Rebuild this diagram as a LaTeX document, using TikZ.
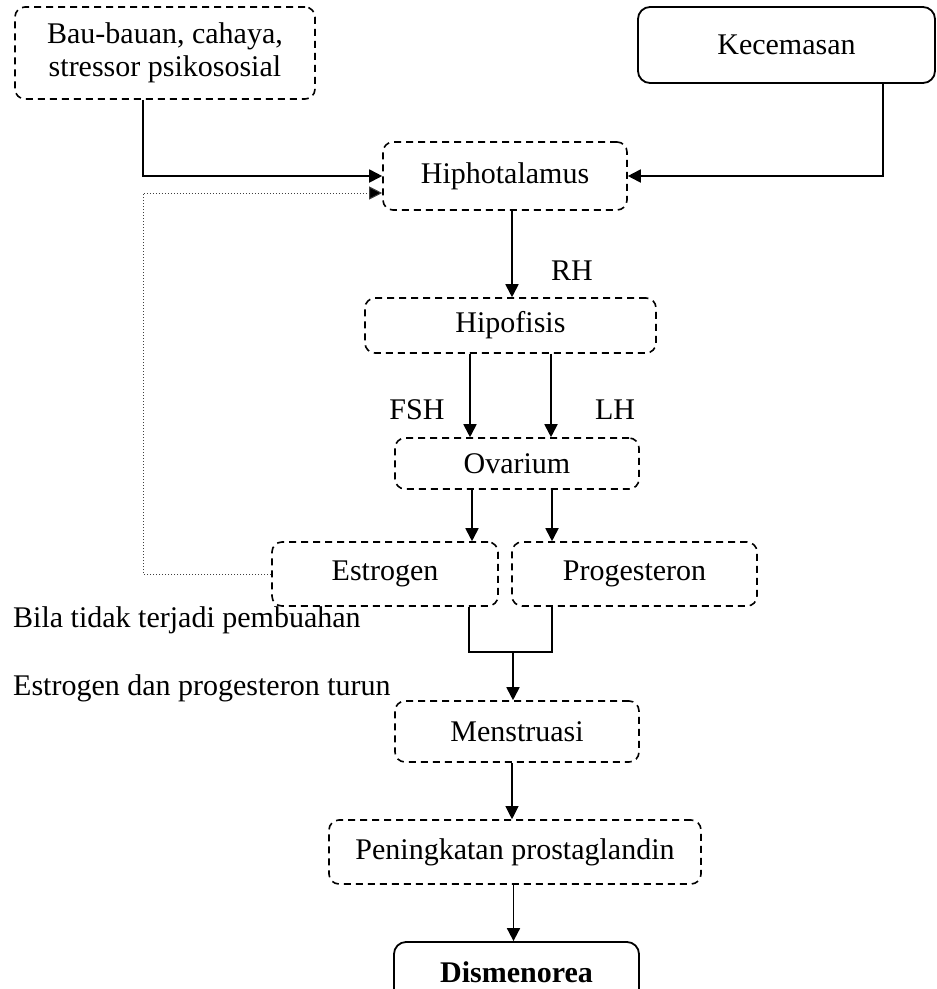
\documentclass[tikz,border=0pt]{standalone}
\usepackage{fontspec}
\setmainfont{Liberation Serif}
\usetikzlibrary{arrows.meta}
\begin{document}
\begin{tikzpicture}[x=1pt,y=-1pt,
  every node/.style={font=\fontsize{30}{33}\selectfont},
  dbox/.style={draw, dash pattern=on 7pt off 5pt, line width=1.6pt, rounded corners=10pt, inner sep=0pt, align=center},
  sbox/.style={draw, line width=1.8pt, rounded corners=12pt, inner sep=0pt, align=center},
  arr/.style={line width=1.8pt, -{Triangle[length=13pt,width=13pt]}},
  arrthin/.style={line width=1.1pt, -{Triangle[length=13pt,width=13pt]}},
  conn/.style={line width=1.8pt},
  fback/.style={dotted, line width=1pt, draw=black!75, -{Triangle[length=13pt,width=13pt,fill=black]}},
  lbl/.style={inner sep=0pt}
]
\useasboundingbox (0,0) rectangle (937,989);

\node[dbox, minimum width=300pt, minimum height=92pt] (bau) at (165,53) {Bau-bauan, cahaya,\\stressor psikososial};
\node[sbox, minimum width=297pt, minimum height=76pt] (kec) at (786.5,45) {Kecemasan};
\node[dbox, minimum width=244pt, minimum height=68pt] (hiph) at (505,176) {Hiphotalamus};
\node[dbox, minimum width=291pt, minimum height=55pt] (hipo) at (510.5,325.5) {Hipofisis};
\node[dbox, minimum width=244pt, minimum height=51pt] (ovar) at (517,463.5) {Ovarium};
\node[dbox, minimum width=226pt, minimum height=64pt] (estr) at (385,574) {Estrogen};
\node[dbox, minimum width=245pt, minimum height=64pt] (prog) at (634.5,574) {Progesteron};
\node[dbox, minimum width=244pt, minimum height=61pt] (mens) at (517,731.5) {Menstruasi};
\node[dbox, minimum width=372pt, minimum height=64pt] (pen) at (515,852) {Peningkatan prostaglandin};
\node[sbox, minimum width=245pt, minimum height=60pt] (dism) at (516.5,972) {\textbf{Dismenorea}};

\node[lbl, anchor=base] (rh) at (572,280) {RH};
\node[lbl, anchor=base] (fsh) at (417,419) {FSH};
\node[lbl, anchor=base] (lh) at (615,419) {LH};
\node[lbl, anchor=base west] (bila) at (13,627) {Bila tidak terjadi pembuahan};
\node[lbl, anchor=base west] (turun) at (13,695) {Estrogen dan progesteron turun};

\coordinate (fb) at ([xshift=-22pt]bau.south);
\draw[arr] (fb) |- (hiph.west);
\draw[fback] (estr.west) -- (estr.west -| fb) |- ([yshift=-17pt]hiph.west);
\draw[arr] ([xshift=96.5pt]kec.south) |- (hiph.east);
\draw[arr] ([xshift=7pt]hiph.south) -- ([xshift=7pt]hiph.south |- hipo.north);
\draw[arr] ([xshift=-40.5pt]hipo.south) -- ([xshift=-40.5pt]hipo.south |- ovar.north);
\draw[arr] ([xshift=40.5pt]hipo.south) -- ([xshift=40.5pt]hipo.south |- ovar.north);
\draw[arr] ([xshift=-45pt]ovar.south) -- ([xshift=-45pt]ovar.south |- estr.north);
\draw[arr] ([xshift=35pt]ovar.south) -- ([xshift=35pt]ovar.south |- prog.north);
\coordinate (j) at (513,652);
\draw[conn] ([xshift=84pt]estr.south) |- (j);
\draw[conn] ([xshift=-82.5pt]prog.south) |- (j);
\draw[arr] (j) -- (j |- mens.north);
\draw[arrthin] ([xshift=-5pt]mens.south) -- ([xshift=-5pt]mens.south |- pen.north);
\draw[arr] ([xshift=-1.5pt]pen.south) -- ([xshift=-1.5pt]pen.south |- dism.north);
\end{tikzpicture}
\end{document}
